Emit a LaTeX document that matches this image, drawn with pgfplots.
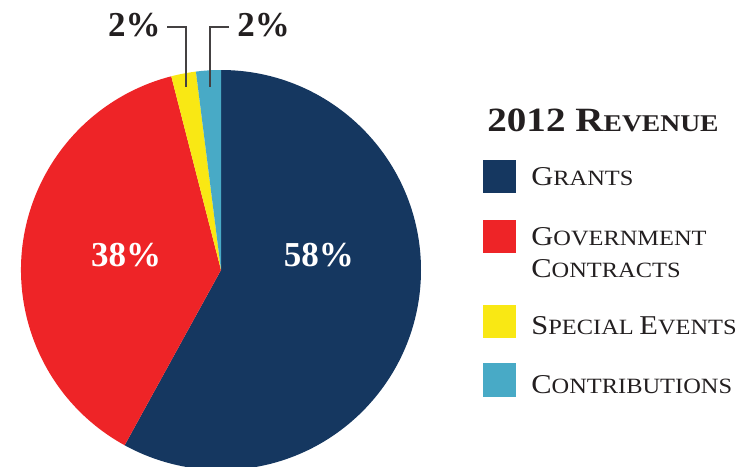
\documentclass[border=0pt]{standalone}
\usepackage{pgfplots}
\pgfplotsset{compat=1.18}
\usepackage{pgfplotstable}
\usepackage{fontspec}
\setmainfont{Liberation Serif}[FakeStretch=1.12]
\newfontfamily\numfont{Liberation Serif}
\newfontfamily\titlefont{Liberation Serif}[FakeStretch=1.15]

\definecolor{cGrant}{HTML}{153760}
\definecolor{cGov}{HTML}{EE2427}
\definecolor{cSpecial}{HTML}{F9E814}
\definecolor{cContrib}{HTML}{48AAC6}
\definecolor{ink}{HTML}{231F20}

% revenue shares in percent, clockwise from 12 o'clock
\pgfplotstableread{
label value color
Grants 58 cGrant
Government 38 cGov
Special 2 cSpecial
Contributions 2 cContrib
}\revenue

% fake small caps: big initial, smaller capitals
\newcommand{\capsc}[2]{{\fontsize{13.6pt}{16pt}\selectfont #1}{\fontsize{10.9pt}{12pt}\selectfont #2}}

\begin{document}
\begin{tikzpicture}
\begin{axis}[
    width=376pt, height=233.5pt, scale only axis,
    xmin=0, xmax=752, ymin=0, ymax=467, y dir=reverse,
    hide axis, clip=true,
]
% pie slices, angles from the table
\pgfplotsextra{
    \gdef\cum{0}
    \foreach \i in {0,...,3}{
        \pgfplotstablegetelem{\i}{value}\of\revenue \let\v\pgfplotsretval
        \pgfplotstablegetelem{\i}{color}\of\revenue \let\c\pgfplotsretval
        \pgfmathsetmacro\a{3.6*\cum}
        \pgfmathsetmacro\b{3.6*(\cum+\v)}
        \fill[fill=\c] (axis cs:221,270) -- (axis cs:{221+200*sin(\a)},{270-200*cos(\a)})
            arc[start angle={90-\a}, end angle={90-\b}, radius=100pt] -- cycle;
        \pgfmathsetmacro\n{\cum+\v}\xdef\cum{\n}
    }
}

% slice labels
\node[text=white, font=\numfont\bfseries\fontsize{17.5pt}{20pt}\selectfont] at (axis cs:319,255) {58\%};
\node[text=white, font=\numfont\bfseries\fontsize{17.5pt}{20pt}\selectfont] at (axis cs:126,255) {38\%};
\draw[ink!85, line width=0.6pt] (axis cs:167,27) -- (axis cs:186,27) -- (axis cs:186,87);
\draw[ink!85, line width=0.6pt] (axis cs:229,27) -- (axis cs:210,27) -- (axis cs:210,87);
\node[anchor=base east, text=ink, inner sep=0pt, font=\numfont\bfseries\fontsize{17.5pt}{20pt}\selectfont] at (axis cs:161,36) {2\%};
\node[anchor=base west, text=ink, inner sep=0pt, font=\numfont\bfseries\fontsize{17.5pt}{20pt}\selectfont] at (axis cs:237,36) {2\%};

% legend
\node[anchor=base west, text=ink, inner sep=0pt] at (axis cs:487,131)
    {\titlefont\bfseries{\fontsize{17pt}{20pt}\selectfont 2012 R}{\fontsize{12pt}{14pt}\selectfont EVENUE}};
\fill[cGrant]   (axis cs:483,160) rectangle (axis cs:516,193);
\fill[cGov]     (axis cs:483,220) rectangle (axis cs:516,253);
\fill[cSpecial] (axis cs:483,305) rectangle (axis cs:516,338);
\fill[cContrib] (axis cs:483,363) rectangle (axis cs:516,397);
\node[anchor=base west, text=ink, inner sep=0pt] at (axis cs:531,185) {\capsc{G}{RANTS}};
\node[anchor=base west, text=ink, inner sep=0pt] at (axis cs:531,245) {\capsc{G}{OVERNMENT}};
\node[anchor=base west, text=ink, inner sep=0pt] at (axis cs:531,277) {\capsc{C}{ONTRACTS}};
\node[anchor=base west, text=ink, inner sep=0pt] at (axis cs:531,334) {\capsc{S}{PECIAL} \capsc{E}{VENTS}};
\node[anchor=base west, text=ink, inner sep=0pt] at (axis cs:531,393) {\capsc{C}{ONTRIBUTIONS}};
\end{axis}
\pgfresetboundingbox
\path (current axis.south west) rectangle (current axis.north east);
\end{tikzpicture}
\end{document}
